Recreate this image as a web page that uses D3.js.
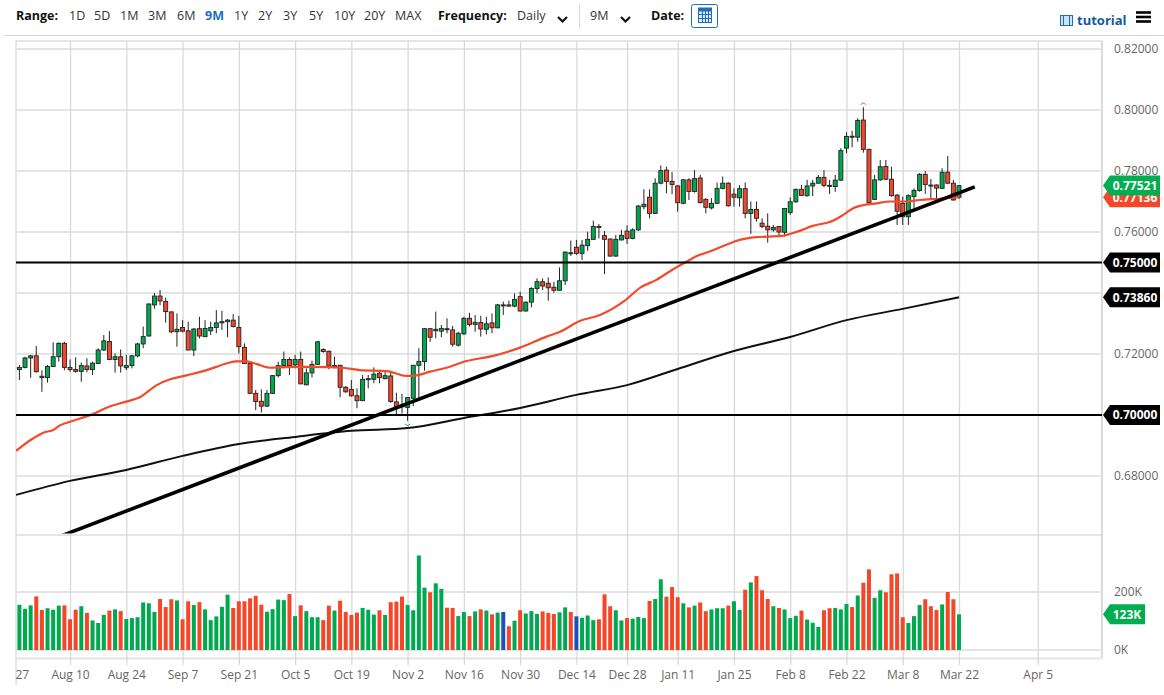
<!DOCTYPE html>
<html>
<head>
<meta charset="utf-8">
<script src="https://cdnjs.cloudflare.com/ajax/libs/d3/7.8.5/d3.min.js"></script>
<style>
html,body{margin:0;padding:0;background:#fff;overflow:hidden}
svg{display:block;font-family:"Open Sans",sans-serif}
</style>
</head>
<body>
<div id="chart"></div>
<script>
// ---- DATA (prices in 1/10000, volume in thousands, x = trading-bar index) ----
const openPips=[
7149,7156,7187,7194,7127,7123,7159,7191,7235,7156,
7149,7143,7161,7149,7169,7213,7241,7182,7191,7155,
7162,7194,7233,7259,7361,7390,7372,7338,7273,7287,
7276,7213,7283,7257,7276,7287,7302,7306,7311,7287,
7222,7169,7071,7045,7029,7071,7129,7162,7182,7164,
7182,7099,7138,7166,7215,7209,7158,7163,7091,7084,
7063,7047,7117,7117,7137,7119,7128,7043,7033,7025,
7055,7163,7175,7283,7276,7275,7283,7279,7229,7266,
7317,7297,7303,7281,7302,7286,7361,7361,7357,7388,
7341,7370,7415,7437,7432,7419,7409,7440,7532,7550,
7530,7555,7576,7618,7588,7577,7521,7574,7603,7579,
7607,7683,7714,7661,7760,7803,7766,7751,7694,7771,
7733,7777,7707,7679,7694,7743,7760,7724,7712,7742,
7661,7674,7629,7619,7607,7618,7599,7664,7699,7740,
7719,7751,7760,7779,7753,7749,7770,7875,7914,7911,
7967,7871,7707,7771,7815,7773,7721,7694,7650,7716,
7736,7789,7754,7754,7743,7796,7760,7714];
const closePips=[
7156,7187,7194,7142,7123,7159,7191,7235,7156,7149,
7143,7162,7149,7170,7213,7243,7182,7191,7161,7162,
7194,7233,7257,7364,7390,7374,7339,7273,7281,7275,
7213,7282,7259,7284,7287,7302,7306,7311,7290,7224,
7169,7071,7044,7029,7071,7129,7162,7182,7162,7182,
7102,7138,7166,7240,7208,7161,7162,7091,7076,7063,
7047,7117,7119,7134,7123,7129,7044,7027,7027,7057,
7163,7175,7283,7255,7281,7284,7281,7232,7268,7317,
7297,7304,7282,7299,7286,7361,7358,7357,7379,7341,
7370,7415,7437,7423,7417,7409,7440,7534,7530,7530,
7557,7576,7618,7615,7576,7521,7576,7589,7579,7607,
7685,7691,7661,7760,7801,7766,7756,7696,7771,7733,
7775,7696,7681,7694,7743,7760,7686,7714,7742,7661,
7674,7645,7618,7607,7615,7600,7677,7699,7740,7720,
7751,7760,7779,7753,7750,7770,7867,7913,7912,7966,
7871,7696,7771,7814,7773,7719,7668,7650,7719,7736,
7789,7756,7752,7744,7796,7760,7705,7752];
const highPips=[
7164,7191,7197,7226,7147,7164,7238,7238,7240,7182,
7189,7172,7186,7175,7219,7262,7275,7202,7215,7197,
7197,7237,7290,7366,7400,7410,7385,7339,7333,7311,
7306,7284,7322,7311,7306,7344,7342,7315,7331,7325,
7235,7175,7082,7084,7082,7131,7175,7208,7189,7197,
7208,7153,7178,7243,7219,7211,7191,7164,7095,7115,
7087,7131,7131,7156,7145,7142,7145,7073,7069,7057,
7164,7219,7285,7284,7339,7295,7317,7292,7273,7322,
7335,7328,7325,7322,7333,7364,7372,7375,7399,7404,
7372,7419,7448,7448,7451,7437,7484,7537,7572,7574,
7574,7601,7637,7626,7603,7579,7590,7607,7622,7612,
7689,7740,7740,7776,7818,7814,7796,7754,7774,7776,
7803,7787,7711,7711,7762,7782,7763,7743,7754,7762,
7700,7700,7645,7661,7623,7620,7678,7714,7742,7754,
7771,7771,7787,7803,7771,7787,7875,7927,7932,7973,
8009,7873,7787,7836,7836,7814,7724,7716,7724,7743,
7793,7800,7774,7756,7809,7849,7771,7754];
const lowPips=[
7115,7153,7122,7139,7076,7106,7158,7175,7147,7142,
7139,7109,7140,7131,7167,7211,7180,7139,7139,7147,
7153,7189,7219,7257,7348,7360,7303,7268,7224,7271,
7213,7193,7251,7255,7262,7268,7279,7255,7287,7202,
7169,7069,7016,7008,7027,7069,7123,7153,7131,7153,
7102,7098,7123,7164,7204,7150,7153,7058,7073,7060,
7022,7046,7087,7104,7104,7117,7040,7003,7005,6981,
7029,7049,7145,7240,7251,7255,7268,7224,7224,7262,
7290,7273,7257,7264,7268,7284,7328,7355,7353,7339,
7339,7353,7399,7410,7375,7401,7408,7426,7521,7525,
7508,7538,7574,7579,7462,7519,7519,7572,7561,7576,
7603,7674,7645,7659,7756,7727,7724,7667,7691,7705,
7729,7694,7661,7674,7692,7740,7683,7683,7683,7645,
7594,7634,7612,7565,7601,7590,7585,7656,7696,7718,
7716,7718,7758,7747,7725,7732,7767,7858,7878,7896,
7860,7694,7705,7768,7771,7716,7623,7623,7623,7672,
7732,7725,7711,7711,7741,7758,7703,7708];
const volumeK=[
156,142,154,185,138,144,139,153,154,106,
139,151,128,102,93,121,136,140,134,107,
110,113,164,161,131,176,148,175,171,106,
168,155,165,140,103,116,149,191,145,168,
168,178,187,156,132,141,174,172,193,117,
154,134,113,113,103,153,136,170,131,121,
129,145,139,122,137,121,165,167,184,155,
137,326,215,199,230,211,146,145,117,131,
117,133,140,136,123,129,131,82,101,137,
126,134,124,133,128,124,130,147,131,116,
111,119,103,106,192,151,137,102,110,108,
114,110,169,176,244,184,217,182,161,147,
153,164,134,140,144,144,153,168,138,208,
233,255,206,176,151,145,140,110,118,136,
105,94,80,137,144,145,140,159,148,188,
232,278,180,206,199,261,264,113,93,117,
155,175,151,138,157,200,175,123];
const volumeDirection=(
"GGGRRGGGRR"+"RGRGGGRGRG"+"GGGGGRRRGR"+"RGRGGGGGRR"+"RRRRGGGGRG"+
"RGGGRRGRRR"+"RGGGRGRRRG"+"GGGRGGRRGG"+"RGRGRGBRGR"+"GGGRRRGGRB"+
"GGGRRRGGRG"+"GGRGGRRRGR"+"GRRGGGRGGR"+"GRRRGRGGGR"+"GGGRRGGGRG"+
"RRGGRRRRGG"+"GRRRGRRG").split("");
// red moving average (bar index, price)
const redMaBars=[-0.6,2,4.6,6,7.2,9,13.1,15.5,19,21.4,24.4,26.8,29.7,33.3,36.8,38.6,40.4,42.2,44.5,46.9,49.9,52.2,57.5,60.5,65.3,68.8,70.6,73,75.9,79.5,84.2,89,93.7,96.1,99.6,103.2,107.6,110.3,113.2,116.2,118.6,120.4,122.7,125.1,128,131,135.5,138.4,141,144.6,146.4,148.2,149.7,152.3,154.7,157.7,160,163.6,167];
const redMaPips=[6882,6918,6944,6951,6966,6978,7003,7024,7044,7058,7098,7117,7130,7147,7169,7176,7176,7167,7155,7157,7158,7158,7155,7147,7144,7128,7130,7142,7155,7177,7194,7221,7257,7273,7308,7328,7375,7417,7443,7478,7503,7521,7536,7554,7574,7583,7587,7602,7620,7637,7656,7678,7687,7694,7700,7700,7705,7709,7714];
// black moving average
const blackMaBars=[-0.6,9,19,29,39,49,59,69,79,89,99,108,117,127,137,147,157,167];
const blackMaPips=[6738,6784,6820,6866,6905,6928,6948,6957,6990,7023,7066,7098,7151,7210,7256,7311,7348,7386];
// hand-drawn trendline (bar index, price)
const trendBars=[5.5,169.8];
const trendPrices=[0.6590,0.7748];
const levelPrices=[0.75,0.70];
const priceGridTicks=[0.68,0.70,0.72,0.74,0.76,0.78,0.80,0.82];
const priceLabelTicks=[0.68,0.72,0.76,0.78,0.80,0.82];
const volumeTicks=[0,200];
const dateBars=[-1,9,19,29,39,49,59,69,79,89,99,108,117,127,137,147,157,167,181];
const dateLabels=["27","Aug 10","Aug 24","Sep 7","Sep 21","Oct 5","Oct 19","Nov 2","Nov 16","Nov 30","Dec 14","Dec 28","Jan 11","Jan 25","Feb 8","Feb 22","Mar 8","Mar 22","Apr 5"];
const rangeLabels=["1D","5D","1M","3M","6M","9M","1Y","2Y","3Y","5Y","10Y","20Y","MAX"];
const rangeX=[69,94,120,148,177,205,234,258,283,309,334,364,395];
const lastClose=0.77521, lastRedMa=0.77136, lastBlackMa=0.7386, lastVolume=123;

// ---- STYLE ----
const GREEN="#00a84f",RED="#f4472a",BLUE="#1f4fb8",GRID="#e4e4e4",VGRID="#d9d9d9",TXT="#666";
const W=1164,H=695,L=16,R=1102,TOP=41,SPLIT=535,VBOT=658;
const svg=d3.select("#chart").append("svg").attr("width",W).attr("height",H);

const x=d3.scaleLinear().domain([0,167]).range([19.4,959]);
const y=d3.scaleLinear().domain([0.68,0.82]).range([476,49]);
const yv=d3.scaleLinear().domain([0,200]).range([650,592]);
const pr=p=>p/10000;

svg.append("defs").append("clipPath").attr("id","plot").append("rect").attr("x",L).attr("y",TOP).attr("width",R-L).attr("height",SPLIT-TOP-1.5);
svg.select("defs").append("clipPath").attr("id","dates").append("rect").attr("x",L).attr("y",TOP).attr("width",W).attr("height",H-TOP);

// toolbar
const bar=svg.append("g").attr("font-size",12.5).attr("fill","#222");
const tb=(t,xx,o={})=>bar.append("text").attr("x",xx).attr("y",o.y||20).text(t).attr("font-weight",o.w||400).attr("fill",o.c||"#333");
tb("Range:",16,{w:700,c:"#111"});
rangeLabels.forEach((t,i)=>tb(t,rangeX[i],t==="9M"?{w:700,c:"#1c6fb8"}:{}));
tb("Frequency:",438,{w:700,c:"#111"});
tb("Daily",517);
tb("9M",590);
tb("Date:",651,{w:700,c:"#111"});
[[558,19],[621,19]].forEach(([a,b])=>bar.append("path").attr("d",`M${a},${b-2}l4.5,4.5l4.5,-4.5`).attr("fill","none").attr("stroke","#111").attr("stroke-width",2.2));
bar.append("line").attr("x1",579.5).attr("x2",579.5).attr("y1",4).attr("y2",29).attr("stroke","#ddd");
bar.append("rect").attr("x",691.5).attr("y",4.5).attr("width",26).attr("height",23).attr("rx",2).attr("fill","#fff").attr("stroke","#1c6fb8");
const cal=bar.append("g").attr("stroke","#1c6fb8").attr("fill","none");
cal.append("rect").attr("x",698.5).attr("y",10.5).attr("width",13).attr("height",12).attr("fill","#dcebf7");
cal.append("rect").attr("x",698.5).attr("y",8).attr("width",13).attr("height",3).attr("fill","#1c6fb8");
[702,705,708].forEach(a=>cal.append("line").attr("x1",a+.5).attr("x2",a+.5).attr("y1",11).attr("y2",22));
[14,18].forEach(a=>cal.append("line").attr("x1",699).attr("x2",711).attr("y1",a+.5).attr("y2",a+.5));
// tutorial + menu
const film=svg.append("g").attr("stroke","#1c6fb8").attr("fill","#cfe2f3");
film.append("rect").attr("x",1060.5).attr("y",15.5).attr("width",12).attr("height",10);
[1063.5,1069.5].forEach(a=>film.append("line").attr("x1",a).attr("x2",a).attr("y1",15).attr("y2",26));
svg.append("text").attr("x",1077).attr("y",25).attr("font-size",13).attr("font-weight",700).attr("fill","#0f5c9c").text("tutorial");
[12.5,17,21.5].forEach(a=>svg.append("line").attr("x1",1136).attr("x2",1151).attr("y1",a).attr("y2",a).attr("stroke","#000").attr("stroke-width",2.6));

// frame
svg.append("line").attr("x1",4).attr("x2",W).attr("y1",35.5).attr("y2",35.5).attr("stroke","#d4d4d4");
const frame=svg.append("g").attr("stroke","#ccc").attr("fill","none");
frame.append("line").attr("x1",L).attr("x2",R).attr("y1",TOP).attr("y2",TOP);
frame.append("line").attr("x1",L).attr("x2",R).attr("y1",SPLIT).attr("y2",SPLIT);
frame.append("line").attr("x1",L).attr("x2",L).attr("y1",TOP).attr("y2",685);
frame.append("line").attr("x1",R).attr("x2",R).attr("y1",TOP).attr("y2",VBOT).attr("stroke-width",1.5);

// horizontal grids
svg.append("g").selectAll("line").data(priceGridTicks).join("line")
  .attr("x1",L).attr("x2",R).attr("y1",d=>y(d)).attr("y2",d=>y(d)).attr("stroke",GRID).attr("stroke-width",1.8);
svg.append("g").selectAll("line").data(volumeTicks).join("line")
  .attr("x1",L).attr("x2",R).attr("y1",d=>yv(d)).attr("y2",d=>yv(d)).attr("stroke",GRID).attr("stroke-width",1.8);
svg.append("line").attr("x1",L).attr("x2",R).attr("y1",VBOT+.5).attr("y2",VBOT+.5).attr("stroke",GRID).attr("stroke-width",1.8);

// date axis with vertical grid lines (clip applied on an untransformed wrapper)
const ax=d3.axisBottom(x).tickValues(dateBars).tickFormat((d,i)=>dateLabels[i]).tickSizeOuter(0).tickSizeInner(-(665-TOP)).tickPadding(5);
const gx=svg.append("g").attr("clip-path","url(#dates)").append("g").attr("transform","translate(0,665)").call(ax);
gx.select(".domain").remove();
gx.selectAll("line").attr("stroke",VGRID).attr("stroke-width",1.3).attr("stroke-opacity",d=>d<0?0:1);
gx.selectAll("text").attr("fill",TXT).attr("font-size",12).attr("font-family",'"Open Sans",sans-serif').attr("dx",d=>d<0?8:0);

// price axis labels
const ay=d3.axisRight(y).tickValues(priceLabelTicks).tickFormat(d3.format(".5f")).tickSize(0).tickPadding(0);
const gy=svg.append("g").attr("transform","translate(1114,0)").call(ay);
gy.select(".domain").remove();
gy.selectAll("text").attr("fill",TXT).attr("font-size",12).attr("font-family",'"Open Sans",sans-serif');
const av=d3.axisRight(yv).tickValues(volumeTicks).tickFormat(d=>d+"K").tickSize(0).tickPadding(0);
const gv=svg.append("g").attr("transform","translate(1114,0)").call(av);
gv.select(".domain").remove();
gv.selectAll("text").attr("fill",TXT).attr("font-size",12).attr("font-family",'"Open Sans",sans-serif');

// volume bars
const dirColor={G:GREEN,R:RED,B:BLUE};
svg.append("g").selectAll("rect").data(volumeK).join("rect")
  .attr("x",(d,i)=>x(i)-2).attr("width",4).attr("y",d=>yv(d)).attr("height",d=>yv(0)-yv(d))
  .attr("fill",(d,i)=>dirColor[volumeDirection[i]]);

// candles
const bars=d3.range(openPips.length);
const plot=svg.append("g").attr("clip-path","url(#plot)");
plot.append("g").selectAll("line").data(bars).join("line")
  .attr("x1",i=>x(i)).attr("x2",i=>x(i)).attr("y1",i=>y(pr(highPips[i]))).attr("y2",i=>y(pr(lowPips[i])))
  .attr("stroke","#222").attr("stroke-width",1);
plot.append("g").selectAll("rect").data(bars).join("rect")
  .attr("x",i=>x(i)-2).attr("width",4)
  .attr("y",i=>y(pr(Math.max(openPips[i],closePips[i]))))
  .attr("height",i=>Math.max(1,Math.abs(y(pr(openPips[i]))-y(pr(closePips[i])))))
  .attr("fill",i=>closePips[i]>=openPips[i]?GREEN:RED)
  .attr("stroke","#222").attr("stroke-width",.9);

// high / low markers
plot.append("path").attr("d",`M${x(150)-2.5},${y(pr(highPips[150]))-2.5}q2.5,-3.5 5,0`).attr("fill","none").attr("stroke",RED);
plot.append("path").attr("d",`M${x(69)-2.5},${y(pr(lowPips[69]))+3}q2.5,3.5 5,0`).attr("fill","none").attr("stroke",GREEN);

// moving averages
const line=d3.line().curve(d3.curveMonotoneX);
plot.append("path").attr("d",line(redMaBars.map((b,i)=>[x(b),y(pr(redMaPips[i]))]))).attr("fill","none").attr("stroke","#f24a2b").attr("stroke-width",2.2);
plot.append("path").attr("d",line(blackMaBars.map((b,i)=>[x(b),y(pr(blackMaPips[i]))]))).attr("fill","none").attr("stroke","#111").attr("stroke-width",2);

// levels and trendline
plot.append("g").selectAll("line").data(levelPrices).join("line")
  .attr("x1",L).attr("x2",R).attr("y1",d=>y(d)).attr("y2",d=>y(d)).attr("stroke","#000").attr("stroke-width",2);
plot.append("line").attr("x1",x(trendBars[0])).attr("x2",x(trendBars[1])).attr("y1",y(trendPrices[0])).attr("y2",y(trendPrices[1])).attr("stroke","#000").attr("stroke-width",3.6);

// badges
function badge(yy,label,fill,xr,cx){
  const xl=R+1,xb=R+8,h=10;
  const g=svg.append("g");
  g.append("path").attr("d",`M${xl},${yy}L${xb},${yy-h}H${xr}V${yy+h}H${xb}Z`).attr("fill",fill);
  g.append("text").attr("x",cx).attr("y",yy+4.3).attr("text-anchor","middle").attr("font-size",12).attr("font-weight",700).attr("fill","#fff").text(label);
}
const fmt=d3.format(".5f");
badge(y(lastRedMa),fmt(lastRedMa),RED,1160,1135);
badge(y(lastClose),fmt(lastClose),"#00ad50",1160,1135);
levelPrices.forEach(p=>badge(y(p),fmt(p),"#000",1160,1135));
badge(y(lastBlackMa),fmt(lastBlackMa),"#000",1160,1135);
badge(yv(lastVolume),lastVolume+"K","#00ad50",1145,1127);
</script>
</body>
</html>
